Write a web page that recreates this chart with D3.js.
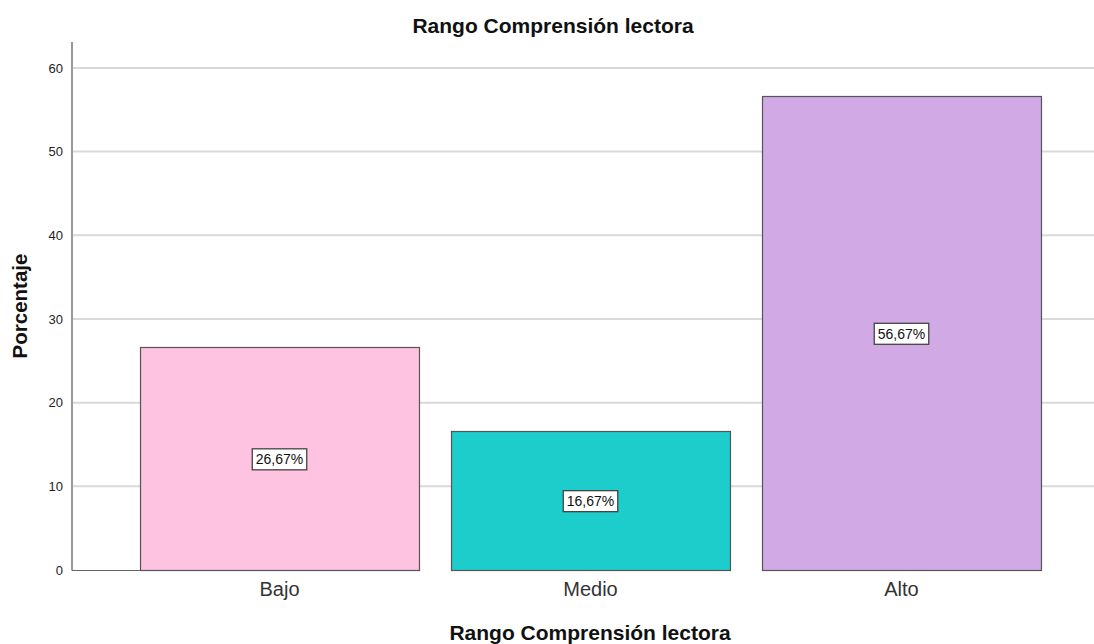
<!DOCTYPE html>
<html><head><meta charset="utf-8">
<script src="https://cdn.jsdelivr.net/npm/d3@7"></script>
<style>body{margin:0;background:#fff}svg{display:block;font-family:"Liberation Sans",Arial,sans-serif}</style>
</head><body><svg id="c" width="1094" height="644"></svg>
<script>
const categories = ["Bajo","Medio","Alto"];
const values = [26.67, 16.67, 56.67];
const labels = ["26,67%","16,67%","56,67%"];
const colors = ["#fdc3e0","#1ccdcc","#d1aae5"];
const yTicks = [0,10,20,30,40,50,60];

const svg = d3.select("#c");
const x0 = 72, x1 = 1094, yb = 570, yt = 42;
const y = d3.scaleLinear().domain([0, 63.1]).range([yb, yt]);
const x = d3.scaleBand().domain(categories).range([124, 1057]).paddingInner(0.103).paddingOuter(0.0515);

// grid
svg.append("g").selectAll("line").data(yTicks.filter(d=>d>0)).join("line")
  .attr("x1", x0).attr("x2", x1).attr("y1", d=>y(d)).attr("y2", d=>y(d))
  .attr("stroke", "#d9d9d9").attr("stroke-width", 2);

// bars
svg.append("g").selectAll("rect").data(values).join("rect")
  .attr("x", (d,i)=>x(categories[i])+0.5).attr("width", x.bandwidth())
  .attr("y", d=>Math.round(y(d))+0.5).attr("height", d=>yb - Math.round(y(d)))
  .attr("fill", (d,i)=>colors[i]).attr("stroke", "#555").attr("stroke-width", 1.2);

// y axis
const ya = svg.append("g").attr("transform", `translate(${x0},0)`)
  .call(d3.axisLeft(y).tickValues(yTicks).tickSize(0).tickPadding(9));
ya.select(".domain").remove();
ya.selectAll("text").attr("font-size", 13).attr("fill", "#222").attr("font-family", "Liberation Sans, Arial");
svg.append("line").attr("x1", x0).attr("x2", x0).attr("y1", yt).attr("y2", yb+0.5).attr("stroke", "#999").attr("stroke-width", 2);
svg.append("line").attr("x1", x0).attr("x2", x(categories[0])).attr("y1", yb+0.5).attr("y2", yb+0.5).attr("stroke", "#666").attr("stroke-width", 1.2);

// x axis
const xa = svg.append("g").attr("transform", `translate(0,${yb})`)
  .call(d3.axisBottom(x).tickSize(0).tickPadding(12));
xa.select(".domain").remove();
xa.selectAll("text").attr("font-size", 20).attr("fill", "#333").attr("font-family", "Liberation Sans, Arial");

// value labels
const lg = svg.append("g").selectAll("g").data(values).join("g")
  .attr("transform", (d,i)=>`translate(${x(categories[i])+x.bandwidth()/2},${(y(d)+yb)/2+1})`);
lg.append("text").text((d,i)=>labels[i]).attr("text-anchor","middle").attr("dy","0.35em")
  .attr("font-size", 14).attr("fill", "#111").each(function(){
    const b = this.getBBox();
    d3.select(this.parentNode).insert("rect","text")
      .attr("x", b.x-3.5).attr("y", b.y-2.5).attr("width", b.width+7).attr("height", b.height+5)
      .attr("fill","#fff").attr("stroke","#444").attr("stroke-width",1.3);
  });

// titles
svg.append("text").attr("x", 553).attr("y", 33).attr("text-anchor","middle")
  .attr("font-size", 21).attr("font-weight","bold").attr("fill","#111").text("Rango Comprensión lectora");
svg.append("text").attr("x", 590).attr("y", 640).attr("text-anchor","middle")
  .attr("font-size", 21).attr("font-weight","bold").attr("fill","#111").text("Rango Comprensión lectora");
svg.append("text").attr("transform","translate(27,306) rotate(-90)").attr("text-anchor","middle")
  .attr("font-size", 20.5).attr("font-weight","bold").attr("fill","#111").text("Porcentaje");
</script></body></html>
